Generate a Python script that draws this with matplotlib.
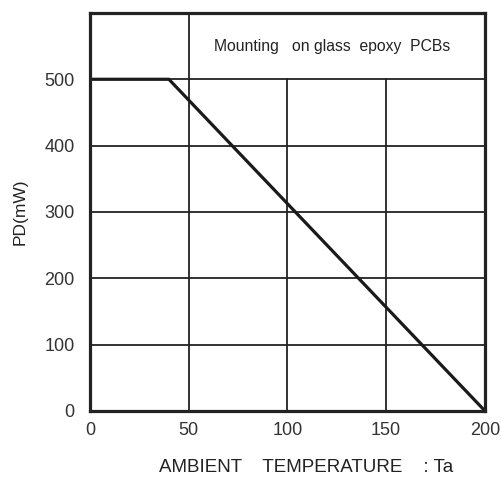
import matplotlib
matplotlib.use('Agg')
import matplotlib.pyplot as plt

plt.rcParams['font.family'] = ['Liberation Sans', 'DejaVu Sans']

# derating curve
ta = [0, 40, 200]
pd_mw = [500, 500, 0]

x_ticks = [0, 50, 100, 150, 200]
y_ticks = [0, 100, 200, 300, 400, 500]
x_grid = [50, 100, 150]
y_grid = [100, 200, 300, 400, 500]

fig = plt.figure(figsize=(5.02, 4.8), dpi=100)
ax = fig.add_axes([0.179, 0.144, 0.787, 0.829])

# only the first vertical line runs up into the note box
for x in x_grid:
    top = 600 if x == 50 else 500
    ax.plot([x, x], [0, top], color='#222222', lw=1.3, zorder=1)
for y in y_grid:
    ax.axhline(y, color='#222222', lw=1.3, zorder=1)

ax.plot(ta, pd_mw, color='#1a1a1a', lw=2.3, zorder=3, solid_capstyle='butt')

ax.set_xlim(0, 200)
ax.set_ylim(0, 600)
ax.set_xticks(x_ticks)
ax.set_yticks(y_ticks)
ax.tick_params(axis='both', length=0, labelsize=13, colors='#333333')
ax.tick_params(axis='y', pad=11)
ax.tick_params(axis='x', pad=8)

for s in ax.spines.values():
    s.set_linewidth(2.3)
    s.set_color('#222222')
    s.set_zorder(4)

ax.text(122.5, 550, 'Mounting   on glass  epoxy  PCBs', fontsize=11.3,
        ha='center', va='center', color='#222222')

ax.set_xlabel('AMBIENT    TEMPERATURE    : Ta', fontsize=13.5, color='#222222')
ax.xaxis.set_label_coords(0.547, -0.12)
ax.set_ylabel('PD(mW)', fontsize=12.5, color='#222222', labelpad=12)

fig.savefig('out.png', dpi=100)
